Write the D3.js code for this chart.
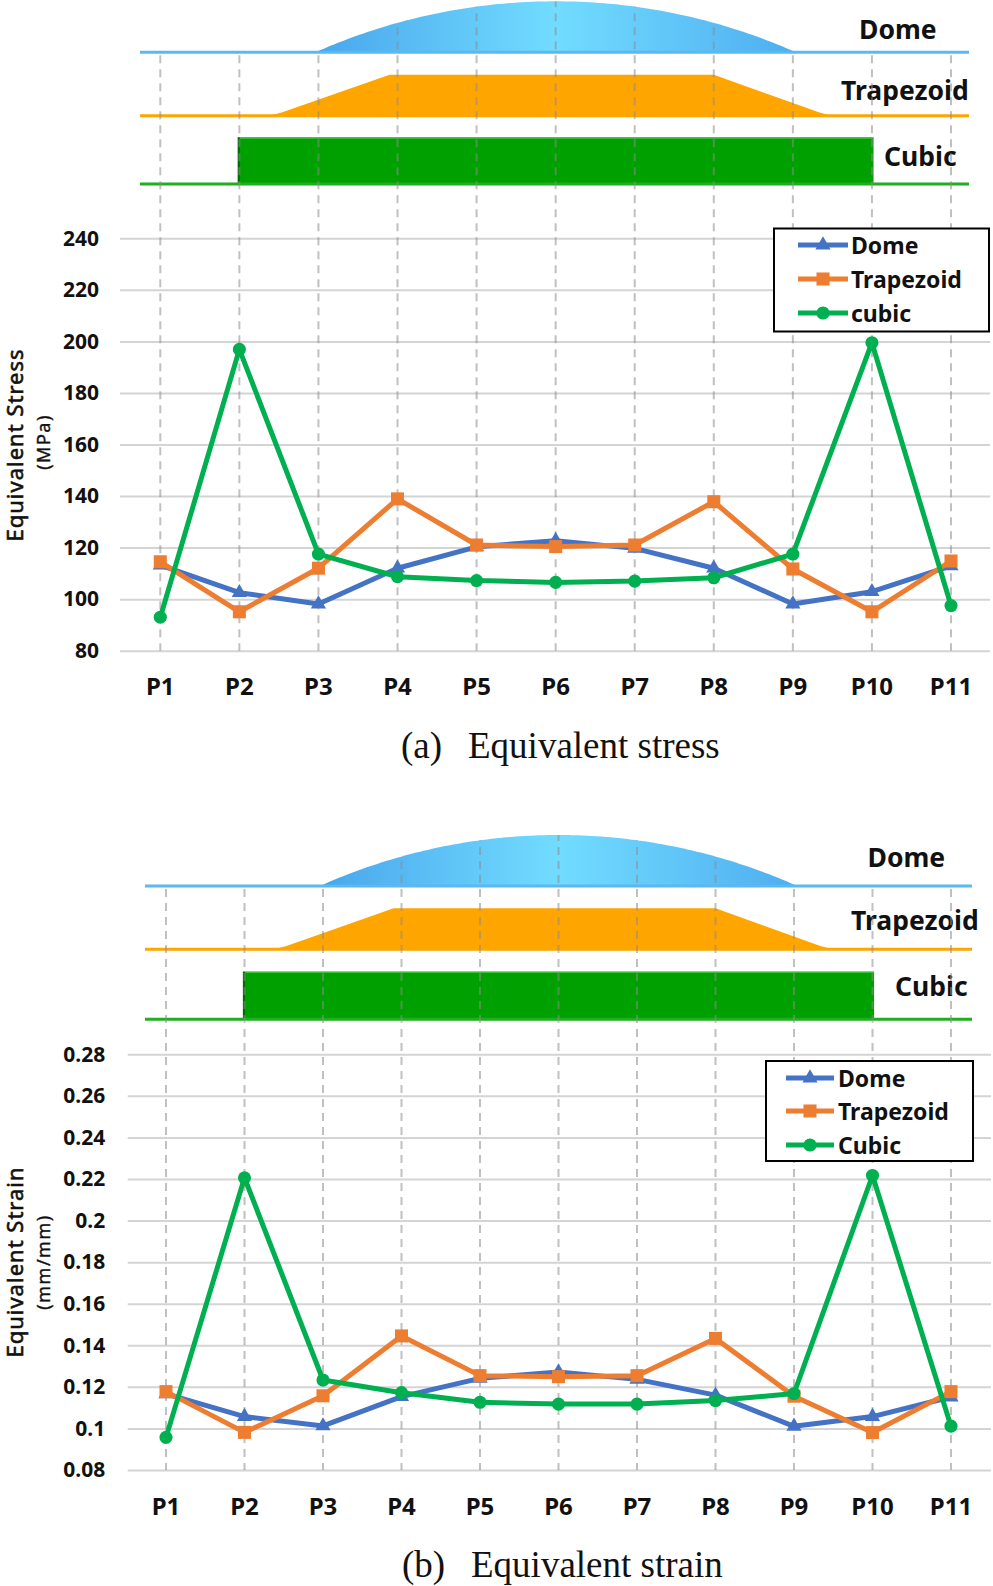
<!DOCTYPE html>
<html>
<head>
<meta charset="utf-8">
<script src="https://cdn.jsdelivr.net/npm/d3@7"></script>
<style>
  html, body { margin: 0; padding: 0; background: #fff; }
  svg { display: block; }
</style>
</head>
<body>
<svg id="chart" width="993" height="1586"></svg>
<script>
// ---------------- DATA ----------------
const categories = ["P1","P2","P3","P4","P5","P6","P7","P8","P9","P10","P11"];

const stressDome      = [113.2,102.5, 98.1,112.0,120.3,122.7,119.7,112.0, 98.1,102.9,112.9];
const stressTrapezoid = [114.5, 95.1,112.0,138.9,121.0,120.4,121.0,137.8,111.7, 95.1,114.8];
const stressCubic     = [ 93.0,196.9,117.5,108.7,107.2,106.5,107.0,108.3,117.5,199.5, 97.5];

const strainDome      = [0.1166,0.1057,0.1012,0.1153,0.1241,0.1271,0.1236,0.1160,0.1010,0.1057,0.1151];
const strainTrapezoid = [0.1177,0.0981,0.1157,0.1445,0.1254,0.1249,0.1254,0.1433,0.1155,0.0980,0.1177];
const strainCubic     = [0.0957,0.2206,0.1233,0.1172,0.1126,0.1117,0.1117,0.1134,0.1168,0.2217,0.1011];

const stressTicks = [80,100,120,140,160,180,200,220,240];
const stressTickLabels = ["80","100","120","140","160","180","200","220","240"];
const strainTicks = [0.08,0.10,0.12,0.14,0.16,0.18,0.20,0.22,0.24,0.26,0.28];
const strainTickLabels = ["0.08","0.1","0.12","0.14","0.16","0.18","0.2","0.22","0.24","0.26","0.28"];

const legendStress = ["Dome","Trapezoid","cubic"];
const legendStrain = ["Dome","Trapezoid","Cubic"];
const shapeNames   = ["Dome","Trapezoid","Cubic"];

// load profile break points (in P-index units)
const domeSpan       = [1.96, 8.04];
const trapezoidKnots = [1.42, 2.9, 7.0, 8.45];
const cubicSpan      = [0.98, 9.02];

// ---------------- STYLE ----------------
const colors = { dome: "#4472C4", trap: "#ED7D31", cubic: "#00B050" };
const sansFont = "'Noto Sans', 'Open Sans', sans-serif";
const serifFont = "'Liberation Serif', 'Times New Roman', serif";

const svg = d3.select("#chart");
const defs = svg.append("defs");
const grad = defs.append("linearGradient").attr("id","domeGrad")
  .attr("x1","0%").attr("x2","100%").attr("y1","0%").attr("y2","0%");
grad.append("stop").attr("offset","0%").attr("stop-color","#48a6ec");
grad.append("stop").attr("offset","50%").attr("stop-color","#72dcff");
grad.append("stop").attr("offset","100%").attr("stop-color","#4eaef0");

function drawPanel(cfg, idx) {
  const g = svg.append("g");
  const x = d3.scalePoint().domain(categories).range([cfg.x0, cfg.x1]);
  const step = x.step();
  const xi = i => cfg.x0 + i * step;
  const y = d3.scaleLinear().domain([cfg.ticks[0], cfg.ticks[cfg.ticks.length-1]])
    .range([cfg.yBottom, cfg.yTop]);

  // ---------- load shapes ----------
  const dA = xi(domeSpan[0]), dB = xi(domeSpan[1]);
  const half = (dB - dA) / 2, cx = (dA + dB) / 2, h = cfg.domeH;
  const R = (half*half + h*h) / (2*h);
  const domePts = d3.range(0, 101).map(k => {
    const px = dA + (dB - dA) * k / 100;
    const py = cfg.domeBase - (Math.sqrt(Math.max(0, R*R - (px-cx)*(px-cx))) - (R - h));
    return [px, py];
  });
  const domePath = d3.line()(domePts) + "Z";
  g.append("path").attr("d", domePath).attr("fill","url(#domeGrad)");
  g.append("line").attr("x1", cfg.baseL).attr("x2", cfg.baseR)
    .attr("y1", cfg.domeBase).attr("y2", cfg.domeBase)
    .attr("stroke","#5ab8f2").attr("stroke-width",3);

  // Trapezoid (straight slopes, slightly eased feet)
  const tb = cfg.trapBase, tt = cfg.trapBase - cfg.trapH;
  const k = trapezoidKnots.map(xi);
  const s1 = (tb - tt) / (k[1] - k[0]), s2 = (tb - tt) / (k[3] - k[2]);
  const trapD = `M${k[0]-9},${tb} Q${k[0]},${tb} ${k[0]+9},${tb - 9*s1} L${k[1]},${tt} L${k[2]},${tt} ` +
                `L${k[3]-9},${tb - 9*s2} Q${k[3]},${tb} ${k[3]+9},${tb} Z`;
  g.append("path").attr("d", trapD).attr("fill","#FFA500");
  g.append("line").attr("x1", cfg.baseL).attr("x2", cfg.baseR)
    .attr("y1", tb).attr("y2", tb).attr("stroke","#FFA500").attr("stroke-width",3);

  // Cubic
  const cb = cfg.cubicBase, ct = cfg.cubicBase - cfg.cubicH;
  g.append("rect").attr("x", xi(cubicSpan[0])).attr("y", ct)
    .attr("width", xi(cubicSpan[1]) - xi(cubicSpan[0])).attr("height", cb - ct)
    .attr("fill","#00A000");
  g.append("line").attr("x1", xi(cubicSpan[0])).attr("x2", xi(cubicSpan[1]))
    .attr("y1", ct+0.5).attr("y2", ct+0.5).attr("stroke","#3cc03c").attr("stroke-width",1.5);
  g.append("line").attr("x1", xi(cubicSpan[0])+1).attr("x2", xi(cubicSpan[0])+1)
    .attr("y1", ct).attr("y2", cb).attr("stroke","#006a00").attr("stroke-width",2);
  g.append("line").attr("x1", cfg.baseL).attr("x2", cfg.baseR)
    .attr("y1", cb).attr("y2", cb).attr("stroke","#1fae1f").attr("stroke-width",3);

  // shape labels
  const shapeLabelY = [cfg.domeLabelY, cfg.trapLabelY, cfg.cubicLabelY];
  shapeNames.forEach((n, i) => {
    g.append("text").attr("x", cfg.shapeLabelX[i]).attr("y", shapeLabelY[i])
      .attr("font-family", sansFont).attr("font-weight","bold").attr("font-size", 26.5)
      .attr("fill","#111").text(n);
  });

  // ---------- gridlines + y labels ----------
  const yAxis = d3.axisLeft(y).tickValues(cfg.ticks)
    .tickFormat((d, i) => cfg.tickLabels[i])
    .tickSize(-(cfg.gridR - cfg.gridL)).tickPadding(cfg.tickPad);
  const ya = g.append("g").attr("transform", `translate(${cfg.gridL},0)`).call(yAxis);
  ya.select(".domain").remove();
  ya.selectAll(".tick line").attr("stroke","#d4d4d4").attr("stroke-width",2);
  ya.selectAll(".tick text").attr("font-family", sansFont).attr("font-weight","bold")
    .attr("font-size", 21).attr("fill","#111");

  // ---------- vertical dashed lines ----------
  const clip = defs.append("clipPath").attr("id", "clip" + idx);
  clip.append("rect").attr("x", 0).attr("y", cfg.domeBase + 2).attr("width", 993).attr("height", 900);
  clip.append("path").attr("d", domePath);
  g.append("g").attr("clip-path", `url(#clip${idx})`)
    .selectAll("line").data(categories).join("line")
    .attr("x1", d => x(d)).attr("x2", d => x(d))
    .attr("y1", cfg.domeBase - cfg.domeH - 2).attr("y2", cfg.yBottom)
    .attr("stroke","rgba(140,140,140,0.55)").attr("stroke-width",2)
    .attr("stroke-dasharray","8,6");

  // ---------- x labels ----------
  g.append("g").selectAll("text").data(categories).join("text")
    .attr("x", d => x(d)).attr("y", cfg.xLabelY).attr("text-anchor","middle")
    .attr("font-family", sansFont).attr("font-weight","bold").attr("font-size", 24)
    .attr("fill","#111").text(d => d);

  // ---------- y titles ----------
  g.append("text").attr("transform", `translate(${cfg.titleX},${cfg.titleY}) rotate(-90)`)
    .attr("text-anchor","middle").attr("font-family", sansFont).attr("font-size", 22)
    .attr("letter-spacing", 1).attr("fill","#111")
    .attr("stroke","#111").attr("stroke-width",0.6).text(cfg.title);
  g.append("text").attr("transform", `translate(${cfg.unitX},${cfg.unitY}) rotate(-90)`)
    .attr("text-anchor","middle").attr("font-family", sansFont).attr("font-size", 18)
    .attr("letter-spacing", 1.5).attr("fill","#111")
    .attr("stroke","#111").attr("stroke-width",0.4).text(cfg.unit);

  // ---------- series ----------
  const series = [
    { vals: cfg.dome, color: colors.dome, sym: d3.symbolTriangle, size: 100 },
    { vals: cfg.trap, color: colors.trap, sym: d3.symbolSquare, size: 170 },
    { vals: cfg.cubic, color: colors.cubic, sym: d3.symbolCircle, size: 135 }
  ];
  const line = d3.line().x((d, i) => x(categories[i])).y(d => y(d));
  series.forEach(s => {
    g.append("path").attr("d", line(s.vals)).attr("fill","none")
      .attr("stroke", s.color).attr("stroke-width", 5).attr("stroke-linejoin","round");
    g.append("g").selectAll("path").data(s.vals).join("path")
      .attr("d", d3.symbol(s.sym, s.size))
      .attr("transform", (d, i) => `translate(${x(categories[i])},${y(d)})`)
      .attr("fill", s.color);
  });

  // ---------- legend ----------
  const L = cfg.legend;
  g.append("rect").attr("x", L.x).attr("y", L.y).attr("width", L.w).attr("height", L.h)
    .attr("fill","#fff").attr("stroke","#000").attr("stroke-width",2);
  series.forEach((s, i) => {
    const ly = L.rows[i];
    g.append("line").attr("x1", L.lx0).attr("x2", L.lx1).attr("y1", ly).attr("y2", ly)
      .attr("stroke", s.color).attr("stroke-width", 5);
    g.append("path").attr("d", d3.symbol(s.sym, s.size))
      .attr("transform", `translate(${(L.lx0 + L.lx1)/2},${ly})`).attr("fill", s.color);
    g.append("text").attr("x", L.tx).attr("y", ly + 8.5)
      .attr("font-family", sansFont).attr("font-weight","bold").attr("font-size", 23)
      .attr("fill","#111").text(cfg.legendLabels[i]);
  });

  // ---------- caption ----------
  g.append("text").attr("x", cfg.capX1).attr("y", cfg.capY)
    .attr("font-family", serifFont).attr("font-size", 37).attr("fill","#111").text(cfg.capTag);
  g.append("text").attr("x", cfg.capX2).attr("y", cfg.capY)
    .attr("font-family", serifFont).attr("font-size", 37).attr("fill","#111").text(cfg.capText);
}

drawPanel({
  x0: 160.3, x1: 951, ticks: stressTicks, tickLabels: stressTickLabels,
  yBottom: 650.7, yTop: 238.3, gridL: 120, gridR: 990, tickPad: 21,
  domeBase: 52.3, domeH: 51, trapBase: 115.7, trapH: 41, cubicBase: 184, cubicH: 46.5,
  baseL: 140, baseR: 969,
  shapeLabelX: [859, 841, 884], domeLabelY: 39, trapLabelY: 99.5, cubicLabelY: 166,
  xLabelY: 695,
  title: "Equivalent Stress", titleX: 23, titleY: 445,
  unit: "(MPa)", unitX: 50, unitY: 442,
  dome: stressDome, trap: stressTrapezoid, cubic: stressCubic,
  legend: { x: 774, y: 228.5, w: 215, h: 103, rows: [245, 279, 313], lx0: 798, lx1: 848, tx: 851 },
  legendLabels: legendStress,
  capTag: "(a)", capText: "Equivalent stress", capX1: 401, capX2: 468, capY: 758
}, 0);

drawPanel({
  x0: 166, x1: 951, ticks: strainTicks, tickLabels: strainTickLabels,
  yBottom: 1470, yTop: 1054.3, gridL: 127.7, gridR: 991, tickPad: 22.5,
  domeBase: 886, domeH: 51, trapBase: 949.3, trapH: 41, cubicBase: 1019.3, cubicH: 47.5,
  baseL: 145, baseR: 972,
  shapeLabelX: [867.5, 851, 895], domeLabelY: 867, trapLabelY: 929.5, cubicLabelY: 996,
  xLabelY: 1515,
  title: "Equivalent Strain", titleX: 23, titleY: 1262,
  unit: "(mm/mm)", unitX: 50, unitY: 1262,
  dome: strainDome, trap: strainTrapezoid, cubic: strainCubic,
  legend: { x: 766, y: 1061, w: 207, h: 100, rows: [1078, 1111, 1145], lx0: 786, lx1: 834, tx: 838 },
  legendLabels: legendStrain,
  capTag: "(b)", capText: "Equivalent strain", capX1: 402, capX2: 471, capY: 1577
}, 1);
</script>
</body>
</html>
